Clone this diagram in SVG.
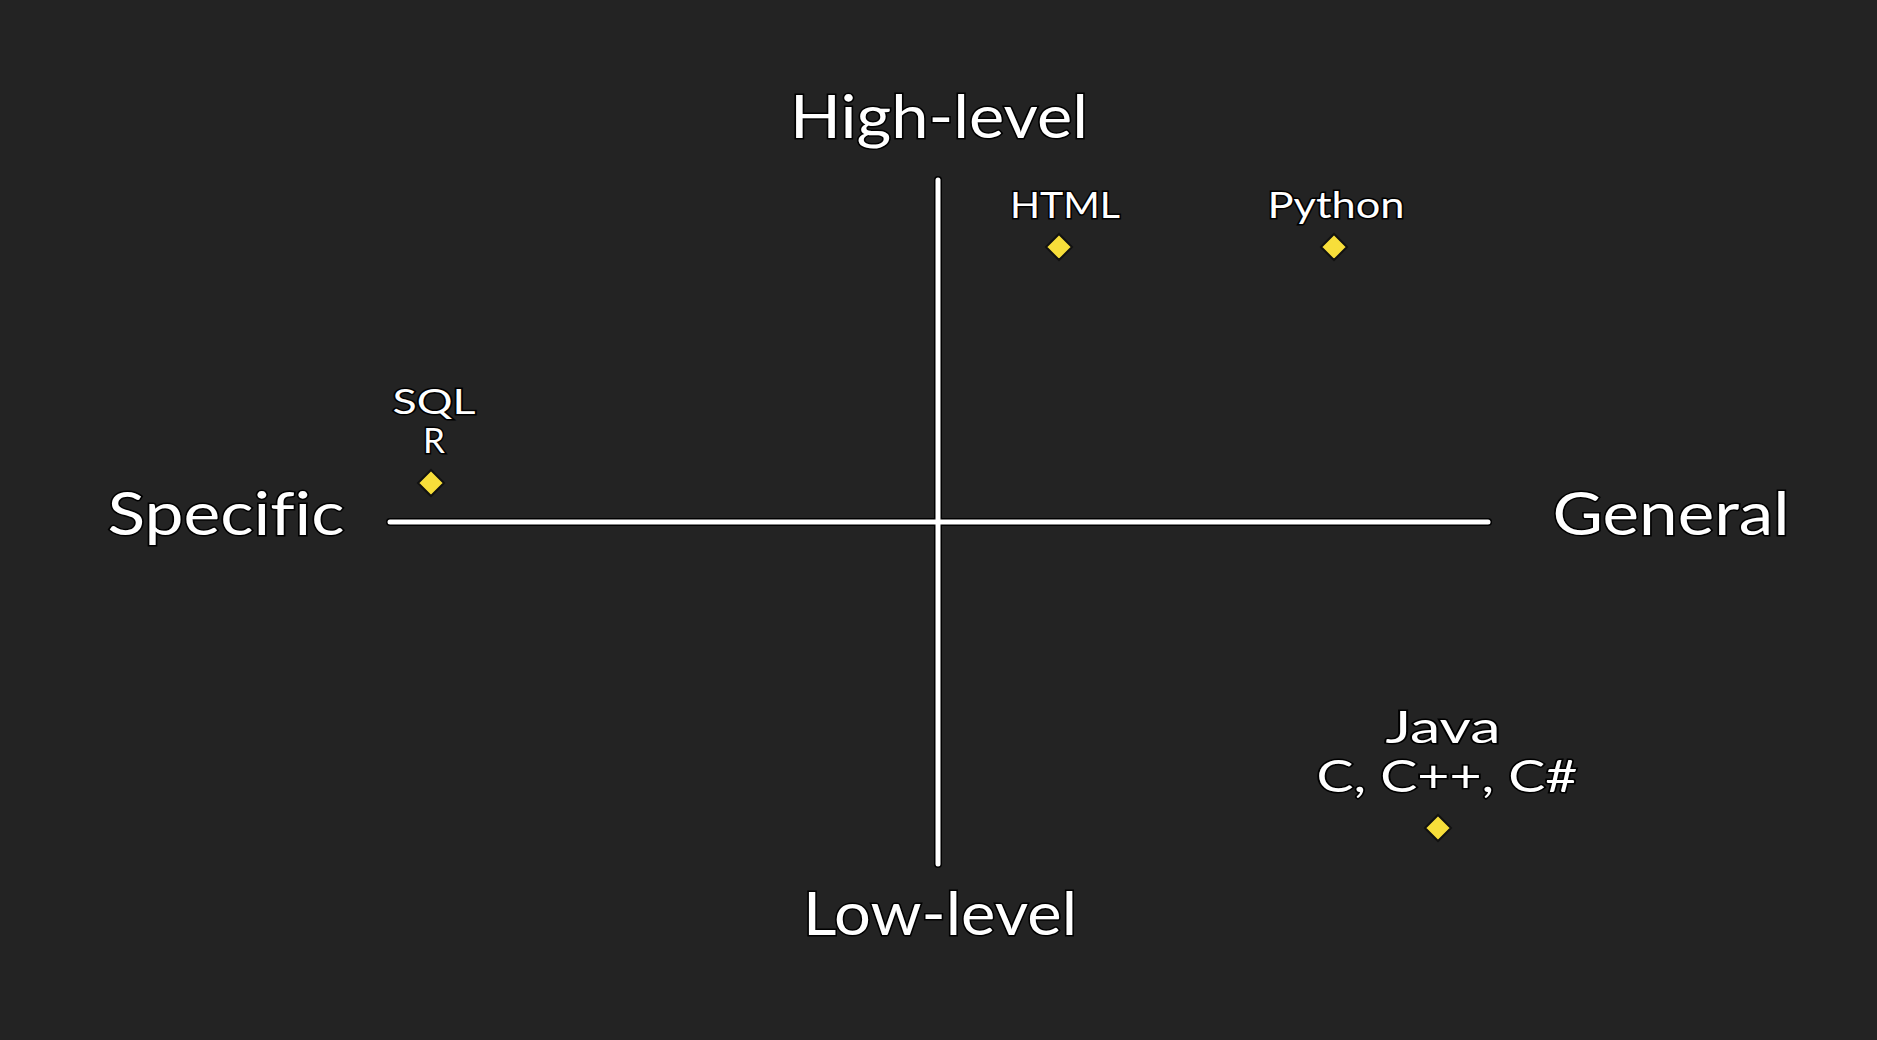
<svg xmlns="http://www.w3.org/2000/svg" width="1877" height="1040" viewBox="0 0 1877 1040">
<style>
text{font-family:"Lato","Open Sans","Liberation Sans",sans-serif;fill:#fff;stroke:#000;stroke-width:3;paint-order:stroke;text-anchor:middle;font-variant-ligatures:none;}
.ax{font-size:60px;}
.lb{font-size:37px;}
.lb3{font-size:35px;}
.lb2{font-size:44px;}
.axis{stroke:#fff;stroke-width:5;stroke-linecap:round;fill:none;}
.axo{stroke:#000;stroke-width:8;stroke-linecap:round;fill:none;}
.dm{fill:#f7de3a;stroke:#111;stroke-width:2;}
</style>
<rect width="1877" height="1040" fill="#232323"/>
<g id="connectors">
<line class="axo" x1="938" y1="180" x2="938" y2="864"/>
<line class="axo" x1="390" y1="522" x2="1488" y2="522"/>
<line class="axis" x1="938" y1="180" x2="938" y2="864"/>
<line class="axis" x1="390" y1="522" x2="1488" y2="522"/>
</g>
<g id="high-level"><text class="ax" x="939" y="138" textLength="298" lengthAdjust="spacingAndGlyphs">High-level</text></g>
<g id="low-level"><text class="ax" x="940" y="935" textLength="274" lengthAdjust="spacingAndGlyphs">Low-level</text></g>
<g id="specific"><text class="ax" x="226" y="535" textLength="237" lengthAdjust="spacingAndGlyphs">Specific</text></g>
<g id="general"><text class="ax" x="1671" y="535" textLength="237" lengthAdjust="spacingAndGlyphs">General</text></g>
<g id="html"><text class="lb" x="1065" y="218" textLength="110" lengthAdjust="spacingAndGlyphs">HTML</text><polygon class="dm" points="1059,234 1072,247 1059,260 1046,247"/></g>
<g id="python"><text class="lb" x="1336" y="218" textLength="137" lengthAdjust="spacingAndGlyphs">Python</text><polygon class="dm" points="1334,234 1347,247 1334,260 1321,247"/></g>
<g id="sql-r"><text class="lb3"><tspan x="434" y="414" textLength="83" lengthAdjust="spacingAndGlyphs">SQL</tspan><tspan x="434" y="453">R</tspan></text><polygon class="dm" points="431,470 444,483 431,496 418,483"/></g>
<g id="java-c"><text class="lb2"><tspan x="1443" y="743" textLength="115" lengthAdjust="spacingAndGlyphs">Java</tspan><tspan x="1447" y="792" textLength="261" lengthAdjust="spacingAndGlyphs">C, C++, C#</tspan></text><polygon class="dm" points="1438,815 1451,828 1438,841 1425,828"/></g>
</svg>
